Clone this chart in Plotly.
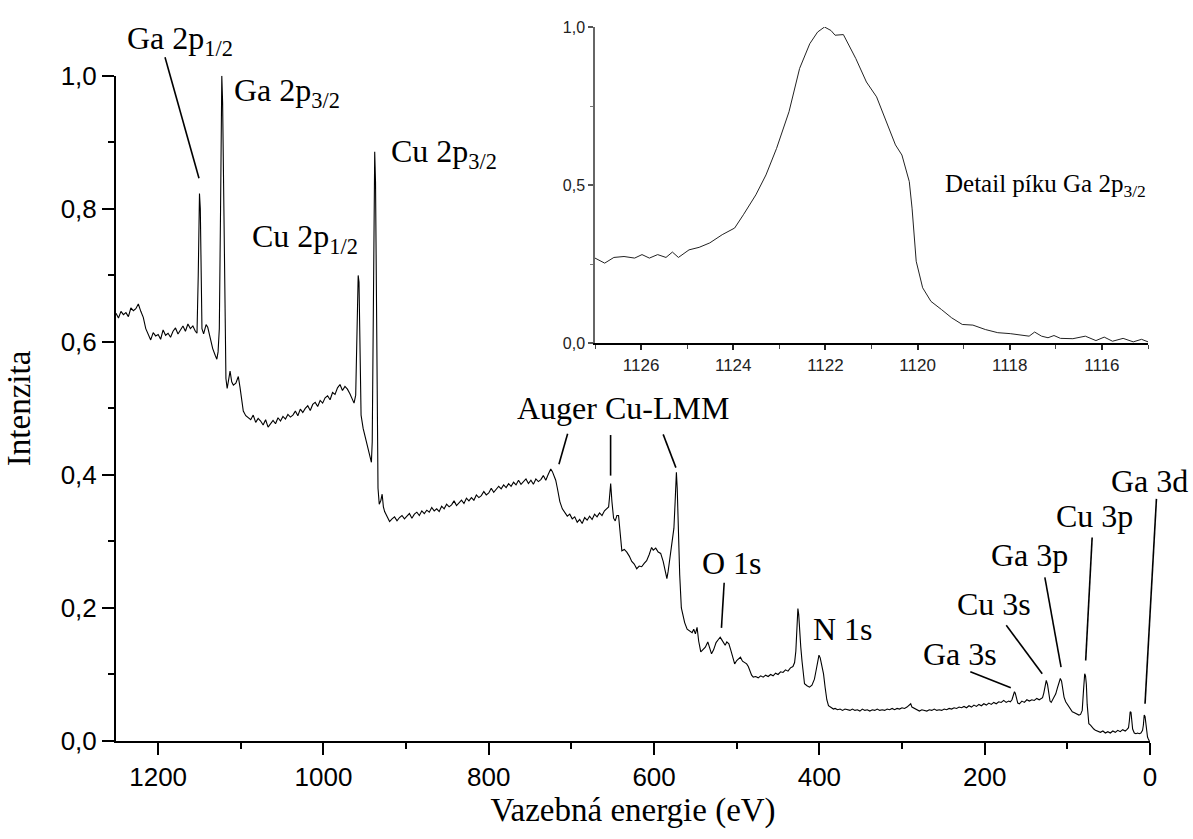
import plotly.graph_objects as go

# ---- main survey spectrum (binding energy eV, normalised intensity) ----
energy = [
    1251, 1248, 1245, 1242, 1239, 1236, 1233, 1230, 1227, 1224, 1221, 1218, 1215, 1212, 1209, 1206, 1203, 1200,
    1197, 1194, 1191, 1188, 1185, 1182, 1179, 1176, 1173, 1170, 1167, 1164, 1161, 1158, 1155, 1153, 1151.5, 1150,
    1149, 1148, 1147, 1145, 1142, 1140, 1137, 1134, 1131, 1129, 1127.5, 1126, 1124.5, 1123, 1122, 1121, 1120,
    1119, 1118, 1116.5, 1115, 1113, 1111, 1109, 1106, 1103, 1101, 1099,
    1097, 1094, 1091, 1088, 1085, 1082, 1079, 1076, 1073, 1070, 1067, 1064, 1061, 1058, 1055,
    1052, 1049, 1046, 1043, 1040, 1037, 1034, 1031, 1028, 1025, 1022, 1019, 1016, 1013, 1010,
    1007, 1004, 1001, 998, 995, 992, 989, 986, 983, 980, 977, 974, 971, 968, 965,
    963, 961, 959.5, 958, 957, 956, 954.5, 952, 949, 946, 943.5, 942, 941, 940, 939, 938, 937, 936, 935, 934,
    932.5, 930.5, 929, 927.5, 926,
    923, 920, 917, 914, 911, 908, 905, 902, 899, 896, 893,
    890, 887, 884, 881, 878, 875, 872, 869, 866, 863, 860,
    857, 854, 851, 848, 845, 842, 839, 836, 833, 830, 827,
    824, 821, 818, 815, 812, 809, 806, 803, 800, 797, 794,
    791, 788, 785, 782, 779, 776, 773, 770, 767, 764, 761,
    758, 755, 752, 749, 746, 743, 740, 737, 734, 731, 728,
    725, 723, 721, 719, 717, 714,
    711, 708, 705, 702, 699, 696, 693, 690, 687, 684, 681, 678, 675, 672, 669, 666, 663, 660, 657,
    655, 654, 652.5, 651, 649, 647, 645, 643, 641, 639, 636, 633, 630,
    627, 624, 621, 618, 615, 612, 609, 606, 603, 601, 598, 595, 592, 589, 586, 584.5, 583, 580, 578, 576, 574.5,
    573, 572, 570.5, 569, 567, 565.5, 563, 560, 557, 554, 552, 550, 548, 546, 543.5, 541, 538, 535, 533, 530.5,
    528, 525, 522, 520, 518, 516, 514, 512, 509.5, 507, 505, 502.5, 500, 497, 495.5, 493, 490, 488, 486, 484, 482,
    480, 477, 474, 471, 468, 465, 462, 459, 456, 453, 450, 447, 444, 441, 438, 435, 432, 430, 428.5, 427, 426, 425,
    424, 422.5, 421, 419.5, 418, 415, 412, 409, 406, 404, 402, 400.5, 399, 397, 395, 393, 391, 389, 386, 383, 381,
    378, 375, 372, 369, 366, 363, 360, 357, 354, 351, 348, 345, 342, 339, 336, 333, 330, 327, 324, 321, 318, 315,
    312, 309, 306, 303, 300, 297, 294, 291, 289.5, 288, 285, 282, 279, 276, 273, 270, 267, 264, 261, 258, 255, 252,
    249, 246, 243, 240, 237, 234, 231, 228, 225, 222, 219, 216, 213, 210, 207, 204, 201, 198, 195, 192, 189, 186,
    183, 180, 177, 174, 171, 169, 167, 165.5, 164, 163, 161.5, 160, 158, 155, 152, 149, 146, 143, 140, 137, 134,
    131.5, 130, 128.5, 127, 125.5, 124, 122.5, 121, 119.5, 118, 116, 114, 112, 110, 108.5, 107, 105.5, 104, 102,
    100, 98, 96, 94, 92, 90, 88, 86, 84, 82, 80.5, 79, 78, 77, 76, 75, 74, 72, 70, 68, 66, 64, 62, 60, 57, 54, 51,
    48, 45, 42, 39, 36, 33, 30, 28, 26, 25, 24, 23, 22, 21, 19, 17, 15, 13, 11, 9, 8, 7, 6, 5, 4, 3, 2, 0.8,
]
intensity = [
    0.643, 0.636, 0.646, 0.641, 0.644, 0.638, 0.651, 0.647, 0.650, 0.657, 0.646, 0.637, 0.620, 0.611, 0.603, 0.614, 0.609, 0.611,
    0.604, 0.618, 0.610, 0.613, 0.607, 0.616, 0.621, 0.612, 0.619, 0.624, 0.616, 0.627, 0.620, 0.624, 0.616, 0.613, 0.70, 0.823,
    0.80, 0.66, 0.62, 0.612, 0.626, 0.622, 0.605, 0.59, 0.58, 0.574, 0.585, 0.62, 0.80, 1.0, 0.96, 0.85, 0.70,
    0.60, 0.545, 0.53, 0.545, 0.556, 0.54, 0.535, 0.538, 0.548, 0.532, 0.51,
    0.496, 0.489, 0.486, 0.483, 0.490, 0.479, 0.485, 0.481, 0.475, 0.483, 0.472, 0.478, 0.482, 0.477, 0.486,
    0.481, 0.488, 0.484, 0.491, 0.487, 0.490, 0.496, 0.489, 0.499, 0.494, 0.500, 0.504, 0.497, 0.506, 0.509,
    0.503, 0.512, 0.508, 0.516, 0.519, 0.513, 0.524, 0.521, 0.531, 0.536, 0.527, 0.533, 0.529, 0.522, 0.515,
    0.508, 0.52, 0.62, 0.70, 0.69, 0.58, 0.49, 0.47, 0.455, 0.441, 0.425, 0.419, 0.45, 0.60, 0.80, 0.886, 0.84, 0.62, 0.45, 0.38,
    0.356, 0.362, 0.371, 0.352, 0.345,
    0.338, 0.330, 0.334, 0.337, 0.331, 0.336, 0.339, 0.334, 0.338, 0.342, 0.335,
    0.341, 0.344, 0.339, 0.346, 0.342, 0.347, 0.344, 0.351, 0.346, 0.349, 0.345,
    0.353, 0.349, 0.356, 0.352, 0.355, 0.361, 0.354, 0.358, 0.362, 0.357, 0.365,
    0.361, 0.366, 0.362, 0.370, 0.366, 0.369, 0.375, 0.370, 0.373, 0.380, 0.374,
    0.378, 0.383, 0.379, 0.385, 0.381, 0.387, 0.383, 0.389, 0.385, 0.392, 0.386,
    0.390, 0.394, 0.387, 0.392, 0.386, 0.394, 0.390, 0.393, 0.399, 0.392, 0.401,
    0.409, 0.405, 0.398, 0.392, 0.380, 0.360,
    0.349, 0.343, 0.338, 0.341, 0.334, 0.337, 0.329, 0.333, 0.327, 0.336, 0.332, 0.338, 0.333, 0.341, 0.337, 0.343, 0.339, 0.346, 0.349,
    0.352, 0.365, 0.387, 0.36, 0.335, 0.331, 0.339, 0.339, 0.31, 0.286, 0.288, 0.284, 0.278,
    0.270, 0.266, 0.259, 0.263, 0.262, 0.267, 0.271, 0.280, 0.291, 0.287, 0.290, 0.284, 0.282, 0.270, 0.254, 0.244, 0.255, 0.28, 0.297, 0.32, 0.36,
    0.404, 0.38, 0.30, 0.25, 0.20, 0.192, 0.178, 0.168, 0.166, 0.163, 0.168, 0.161, 0.171, 0.150, 0.134, 0.138, 0.141, 0.149, 0.140, 0.131,
    0.137, 0.148, 0.153, 0.156, 0.152, 0.147, 0.144, 0.149, 0.146, 0.136, 0.127, 0.116, 0.121, 0.124, 0.126, 0.12, 0.118, 0.116, 0.112, 0.104, 0.099,
    0.096, 0.097, 0.095, 0.098, 0.096, 0.099, 0.097, 0.100, 0.098, 0.102, 0.100, 0.104, 0.103, 0.107, 0.105, 0.110, 0.112, 0.118, 0.135, 0.175, 0.199, 0.19,
    0.16, 0.141, 0.12, 0.098, 0.086, 0.083, 0.081, 0.084, 0.093, 0.106, 0.122, 0.129, 0.125, 0.112, 0.101, 0.080, 0.062, 0.053, 0.050, 0.048, 0.049,
    0.047, 0.048, 0.046, 0.048, 0.047, 0.046, 0.048, 0.046, 0.047, 0.045, 0.048, 0.046, 0.047, 0.045, 0.047, 0.046, 0.048, 0.046, 0.047, 0.046, 0.048, 0.047,
    0.049, 0.047, 0.049, 0.048, 0.050, 0.049, 0.051, 0.054, 0.056, 0.051, 0.049, 0.047, 0.045, 0.047, 0.046, 0.045, 0.047, 0.046, 0.048, 0.046, 0.047, 0.046,
    0.048, 0.047, 0.049, 0.048, 0.050, 0.049, 0.051, 0.050, 0.052, 0.050, 0.053, 0.051, 0.054, 0.052, 0.055, 0.053, 0.056, 0.054, 0.057, 0.055, 0.058, 0.056,
    0.059, 0.058, 0.061, 0.058, 0.060, 0.059, 0.062, 0.068, 0.074, 0.072, 0.064, 0.057, 0.056, 0.060, 0.058, 0.062, 0.060, 0.062, 0.061, 0.064, 0.062,
    0.064, 0.065, 0.072, 0.085, 0.091, 0.085, 0.070, 0.060, 0.058, 0.061, 0.065, 0.071, 0.080, 0.090, 0.094, 0.090, 0.078, 0.066, 0.059,
    0.055, 0.052, 0.047, 0.044, 0.043, 0.042, 0.041, 0.039, 0.040, 0.046, 0.075, 0.101, 0.098, 0.085, 0.055, 0.030, 0.026, 0.024, 0.020, 0.018, 0.016, 0.015, 0.014, 0.013, 0.015, 0.012, 0.014,
    0.012, 0.015, 0.013, 0.016, 0.014, 0.017, 0.015, 0.017, 0.020, 0.030, 0.044, 0.043, 0.032, 0.018, 0.012, 0.011, 0.012, 0.011, 0.012, 0.016, 0.024, 0.039, 0.037, 0.025, 0.012, 0.006, 0.003, 0.0,
]
assert len(energy) == len(intensity), (len(energy), len(intensity))

# ---- inset: detail of Ga 2p3/2 peak ----
detail_energy = [
    1127.0, 1126.79, 1126.59, 1126.37, 1126.14, 1125.98, 1125.82, 1125.64, 1125.46, 1125.32, 1125.19, 1124.96,
    1124.74, 1124.51, 1124.24, 1123.97, 1123.78, 1123.51, 1123.29, 1123.06, 1122.79, 1122.56, 1122.34, 1122.17,
    1122.02, 1121.88, 1121.79, 1121.61, 1121.34, 1121.11, 1120.89, 1120.66, 1120.48, 1120.34, 1120.18, 1120.12,
    1120.03, 1119.89, 1119.71, 1119.48, 1119.26, 1119.03, 1118.80, 1118.53, 1118.26, 1117.99, 1117.72, 1117.58,
    1117.46, 1117.31, 1117.17, 1117.04, 1116.90, 1116.63, 1116.36, 1116.13, 1115.95, 1115.77, 1115.54, 1115.32,
    1115.14, 1115.0,
]
detail_intensity = [
    0.269, 0.253, 0.271, 0.274, 0.269, 0.280, 0.269, 0.280, 0.271, 0.288, 0.271, 0.295,
    0.303, 0.317, 0.343, 0.364, 0.406, 0.469, 0.532, 0.616, 0.732, 0.869, 0.947, 0.984,
    1.0, 0.989, 0.974, 0.976, 0.900, 0.826, 0.779, 0.695, 0.627, 0.595, 0.511, 0.427,
    0.259, 0.175, 0.132, 0.106, 0.080, 0.059, 0.057, 0.043, 0.033, 0.030, 0.024, 0.022,
    0.035, 0.022, 0.017, 0.024, 0.015, 0.014, 0.022, 0.008, 0.019, 0.006, 0.015, 0.004,
    0.012, 0.004,
]

# ---- peak labels: text, anchor energy, anchor intensity ----
label_text = ["Ga 2p<sub>1/2</sub>", "Ga 2p<sub>3/2</sub>", "Cu 2p<sub>1/2</sub>", "Cu 2p<sub>3/2</sub>",
              "Auger Cu-LMM", "O 1s", "N 1s", "Ga 3s", "Cu 3s", "Ga 3p", "Cu 3p", "Ga 3d"]
label_x = [1173.6, 1044.5, 1022, 854, 638, 506, 372, 230, 189, 145.5, 67.7, 1.0]
label_y = [0.99, 0.975, 0.756, 0.884, 0.501, 0.268, 0.169, 0.131, 0.206, 0.279, 0.339, 0.391]
label_anchor = ["center"] * 11 + ["right"]
label_dx = [0, 0, 0, 0, 0, 0, 0, 0, 0, 0, 0, 41]
label_dy = [42, 0, 0, 0, 0, 0, 0, 0, 0, 0, 0, 0]

# ---- leader lines (from -> to), energy / intensity ----
lead_x0 = [1191.7, 704.6, 652.6, 589.0, 515.2, 217.4, 173.9, 127.2, 70.0, -7.8]
lead_y0 = [1.028, 0.462, 0.460, 0.461, 0.238, 0.104, 0.174, 0.246, 0.306, 0.364]
lead_x1 = [1150.6, 715.1, 652.6, 573.6, 518.5, 168.4, 130.4, 107.6, 77.8, 6.0]
lead_y1 = [0.846, 0.416, 0.399, 0.411, 0.170, 0.080, 0.101, 0.111, 0.121, 0.056]

main_yticks = [0.0, 0.2, 0.4, 0.6, 0.8, 1.0]
main_xticks = [1200, 1000, 800, 600, 400, 200, 0]
inset_xticks = [1126, 1124, 1122, 1120, 1118, 1116]
inset_yticks = [0.0, 0.5, 1.0]

X_RANGE = [1251, 0]
Y_RANGE = [0, 1.0]
Y_DOMAIN = [0, 667 / 716]


def comma(v):
    return f"{v:.1f}".replace(".", ",")


SANS = "Liberation Sans, Arial, sans-serif"
SERIF = "Liberation Serif, Times New Roman, serif"

fig = go.Figure()
fig.add_trace(go.Scatter(x=energy, y=intensity, mode="lines",
                         line=dict(color="black", width=1.1), xaxis="x", yaxis="y",
                         showlegend=False, hoverinfo="skip"))
fig.add_trace(go.Scatter(x=detail_energy, y=detail_intensity, mode="lines",
                         line=dict(color="#222222", width=1.0), xaxis="x2", yaxis="y2",
                         showlegend=False, hoverinfo="skip"))

annotations = []
for t, x, y, xa, dx, dy in zip(label_text, label_x, label_y, label_anchor, label_dx, label_dy):
    annotations.append(dict(text=t, x=x, y=y, xref="x", yref="y", showarrow=False,
                            xanchor=xa, yanchor="middle", xshift=dx, yshift=dy,
                            font=dict(family=SERIF, size=32, color="black")))
annotations.append(dict(text="Detail píku Ga 2p<sub>3/2</sub>", x=1115.0, y=0.5, xref="x2", yref="y2",
                        showarrow=False, xanchor="right", yanchor="middle",
                        font=dict(family=SERIF, size=25, color="black")))


# leader lines as shapes; where a line leaves the axis range on one side,
# that coordinate is expressed as a fraction of the plotting area instead
def to_paper_x(v):
    return (X_RANGE[0] - v) / (X_RANGE[0] - X_RANGE[1])


def to_paper_y(v):
    return Y_DOMAIN[0] + (v - Y_RANGE[0]) / (Y_RANGE[1] - Y_RANGE[0]) * (Y_DOMAIN[1] - Y_DOMAIN[0])


shapes = []
for x0, y0, x1, y1 in zip(lead_x0, lead_y0, lead_x1, lead_y1):
    xref, yref = "x", "y"
    if min(x0, x1) < X_RANGE[1]:
        xref, x0, x1 = "paper", to_paper_x(x0), to_paper_x(x1)
    if max(y0, y1) > Y_RANGE[1]:
        yref, y0, y1 = "paper", to_paper_y(y0), to_paper_y(y1)
    shapes.append(dict(type="line", x0=x0, y0=y0, x1=x1, y1=y1, xref=xref, yref=yref,
                       line=dict(color="black", width=1.6)))

fig.update_layout(
    width=1193, height=839,
    margin=dict(l=116, r=43, t=25, b=98),
    paper_bgcolor="white", plot_bgcolor="white",
    showlegend=False,
    annotations=annotations,
    shapes=shapes,
    xaxis=dict(
        domain=[0, 1], range=X_RANGE, anchor="y",
        tickvals=main_xticks, ticktext=[str(v) for v in main_xticks],
        ticks="outside", ticklen=12, tickwidth=2, tickcolor="black",
        showline=True, linecolor="black", linewidth=2, showgrid=False, zeroline=False,
        tickfont=dict(family=SANS, size=26, color="black"), ticklabelstandoff=0,
        minor=dict(dtick=100, tick0=0, ticks="outside", ticklen=6, tickwidth=2, tickcolor="black", showgrid=False),
        title=dict(text="Vazebná energie (eV)", font=dict(family=SERIF, size=33, color="black"), standoff=6),
    ),
    yaxis=dict(
        domain=Y_DOMAIN, range=Y_RANGE, anchor="x",
        tickvals=main_yticks, ticktext=[comma(v) for v in main_yticks],
        ticks="outside", ticklen=12, tickwidth=2, tickcolor="black",
        showline=True, linecolor="black", linewidth=2, showgrid=False, zeroline=False,
        tickfont=dict(family=SANS, size=26, color="black"),
        minor=dict(dtick=0.1, tick0=0, ticks="outside", ticklen=6, tickwidth=2, tickcolor="black", showgrid=False),
        title=dict(text="Intenzita", font=dict(family=SERIF, size=33, color="black"), standoff=20),
    ),
    xaxis2=dict(
        domain=[(595 - 116) / 1034, (1148 - 116) / 1034], range=[1127, 1115], anchor="y2",
        tickvals=inset_xticks, ticktext=[str(v) for v in inset_xticks],
        ticks="outside", ticklen=5, tickwidth=1.5, tickcolor="#222222",
        showline=True, linecolor="black", linewidth=2, showgrid=False, zeroline=False,
        tickfont=dict(family=SANS, size=17, color="#222222"),
        minor=dict(dtick=1, tick0=1115, ticks="outside", ticklen=4, tickwidth=1.2, tickcolor="#444444", showgrid=False),
    ),
    yaxis2=dict(
        domain=[(741 - 342) / 716, 1.0], range=[0, 1.0], anchor="x2",
        tickvals=inset_yticks, ticktext=[comma(v) for v in inset_yticks],
        ticks="outside", ticklen=5, tickwidth=1.5, tickcolor="#555555",
        showline=True, linecolor="#666666", linewidth=1.5, showgrid=False, zeroline=False,
        tickfont=dict(family=SANS, size=16, color="#222222"),
        minor=dict(dtick=0.25, tick0=0, ticks="outside", ticklen=3, tickwidth=1.2, tickcolor="#777777", showgrid=False),
    ),
)

# remove the browser's default 8px body margin so the figure fills the window exactly
fig.write_html("out.html",
               config={"displayModeBar": False},
               post_script="document.documentElement.style.margin='0';document.body.style.margin='0';"
                           "document.body.style.overflow='hidden';")
